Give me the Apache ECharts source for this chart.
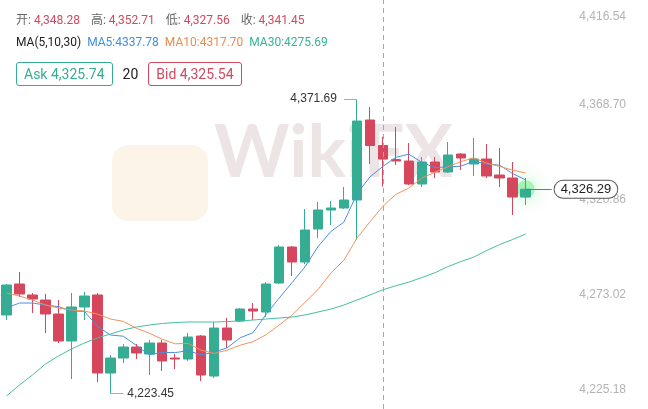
<!DOCTYPE html>
<html>
<head>
<meta charset="utf-8">
<script src="https://cdn.jsdelivr.net/npm/echarts@6/dist/echarts.min.js"></script>
<style>
    html, body {margin: 0; padding: 0; background: #fff;}
    #wrap {position: relative; width: 648px; height: 409px; overflow: hidden;
        font-family: Roboto, "Noto Sans CJK SC", sans-serif;}
    #chart {position: absolute; left: 0; top: 0; width: 648px; height: 409px;}
    .row {position: absolute; left: 16px; white-space: nowrap; font-size: 12px; line-height: 14px;}
    .row span {margin-right: 11px;}
    .lbl {color: #666; margin-right: 0 !important;}
    .up {color: #d2485e;}
    .box {display: inline-block; box-sizing: border-box; height: 24px; line-height: 22px;
        padding: 0 7px; border: 1px solid; border-radius: 3px; font-size: 14px; vertical-align: top;}
</style>
</head>
<body>
<div id="wrap">
    <div id="chart"></div>
    <div class="row" id="ohlc" style="top:13px;"></div>
    <div class="row" id="ma" style="top:35px;"></div>
    <div class="row" id="quote" style="top:62px;"></div>
</div>
<script>
    // 41 candles, then empty slots on the right where the price tag sits
    var categories = ['01', '02', '03', '04', '05', '06', '07', '08', '09', '10',
        '11', '12', '13', '14', '15', '16', '17', '18', '19', '20',
        '21', '22', '23', '24', '25', '26', '27', '28', '29', '30',
        '31', '32', '33', '34', '35', '36', '37', '38', '39', '40', '41',
        '42', '43', '44', '45', '46', '47', '48', '49'];

    var opens = [4262.95, 4278.56, 4273.02, 4270.50, 4263.45, 4249.86, 4266.98, 4273.02, 4233.74, 4241.29,
        4246.83, 4243.31, 4248.85, 4241.29, 4240.79, 4252.37, 4232.23, 4256.40, 4259.93, 4265.97,
        4264.46, 4279.06, 4297.19, 4289.64, 4306.26, 4315.82, 4316.83, 4320.86, 4361.15, 4348.28,
        4341.20, 4340.50, 4328.92, 4340.00, 4334.96, 4344.02, 4338.99, 4341.51, 4333.45, 4331.94, 4322.37];
    var closes = [4278.06, 4273.52, 4271.01, 4263.45, 4249.86, 4266.98, 4272.52, 4233.74, 4241.29, 4246.83,
        4243.81, 4248.85, 4239.78, 4240.79, 4251.87, 4232.73, 4256.40, 4250.36, 4265.97, 4264.96,
        4278.56, 4297.19, 4289.64, 4305.75, 4315.82, 4316.83, 4320.86, 4360.64, 4348.28, 4341.45,
        4340.50, 4328.92, 4340.00, 4334.96, 4343.52, 4342.01, 4341.51, 4332.95, 4331.94, 4322.37, 4326.29];
    var highs = [4278.60, 4284.60, 4274.03, 4273.52, 4270.50, 4274.03, 4274.53, 4274.03, 4242.81, 4248.34,
        4248.34, 4250.36, 4250.36, 4243.31, 4253.88, 4252.88, 4259.42, 4261.44, 4266.47, 4268.99,
        4279.57, 4298.20, 4297.70, 4316.33, 4319.85, 4320.36, 4327.41, 4371.69, 4367.69, 4352.71,
        4357.62, 4349.56, 4342.51, 4342.51, 4350.07, 4344.53, 4352.08, 4349.06, 4347.05, 4340.00, 4331.94];
    var lows = [4260.43, 4272.01, 4263.96, 4253.88, 4248.85, 4230.72, 4260.43, 4229.21, 4223.45, 4238.78,
        4240.79, 4232.73, 4234.75, 4235.76, 4239.78, 4229.71, 4231.22, 4246.33, 4259.42, 4260.43,
        4261.94, 4278.56, 4282.59, 4288.63, 4301.72, 4308.27, 4316.33, 4300.72, 4338.99, 4327.56,
        4338.49, 4328.41, 4327.41, 4331.94, 4334.46, 4335.97, 4332.95, 4331.94, 4327.41, 4313.31, 4318.34];

    var ma5 = [4266.47, 4268.99, 4268.99, 4267.98, 4267.18, 4264.96, 4264.76, 4257.31, 4252.88, 4252.27,
        4247.64, 4242.90, 4244.11, 4244.01, 4245.02, 4242.80, 4244.31, 4246.43, 4251.47, 4254.08,
        4263.25, 4271.41, 4279.26, 4287.22, 4297.39, 4305.05, 4309.78, 4323.98, 4332.49, 4337.78,
        4342.35, 4343.96, 4339.83, 4337.17, 4337.58, 4337.88, 4340.40, 4338.99, 4338.39, 4334.16, 4331.01];
    var ma10 = [4274.03, 4272.52, 4270.50, 4267.98, 4266.47, 4265.47, 4264.96, 4263.45, 4260.93, 4259.73,
        4256.30, 4253.83, 4250.71, 4248.45, 4248.65, 4245.22, 4243.61, 4245.27, 4247.74, 4249.55,
        4253.03, 4257.86, 4262.85, 4269.34, 4275.74, 4284.15, 4290.59, 4301.62, 4309.85, 4317.70,
        4323.70, 4326.87, 4331.91, 4334.83, 4337.60, 4340.11, 4342.18, 4339.41, 4337.78, 4335.87, 4334.45];
    var ma30 = [4222.16, 4227.70, 4232.73, 4238.27, 4242.30, 4245.83, 4248.85, 4251.37, 4253.38, 4255.39,
        4256.91, 4257.91, 4258.67, 4259.17, 4259.42, 4259.42, 4259.42, 4259.68, 4259.93, 4260.43,
        4260.93, 4261.44, 4261.94, 4262.95, 4264.46, 4265.97, 4267.98, 4270.50, 4273.02, 4275.69,
        4277.67, 4279.52, 4281.82, 4284.20, 4287.33, 4289.83, 4292.13, 4295.43, 4298.46, 4300.97, 4303.72];

    var yTicks = [4225.18, 4273.02, 4320.86, 4368.70, 4416.54];
    var yMin = 4215.62, yMax = 4421.58;   // visible price range of the window
    var ask = 4325.74, bid = 4325.54, spread = 20;
    var focusIndex = 29;   // candle under the crosshair

    var UP = '#35ad92', DOWN = '#d6475e';

    function fmt(v) {
        return Number(v).toLocaleString('en-US', {minimumFractionDigits: 2, maximumFractionDigits: 2});
    }

    // header
    document.getElementById('ohlc').innerHTML =
        '<span class="lbl">开: </span><span class="up">' + fmt(opens[focusIndex]) + '</span>' +
        '<span class="lbl">高: </span><span class="up">' + fmt(highs[focusIndex]) + '</span>' +
        '<span class="lbl">低: </span><span class="up">' + fmt(lows[focusIndex]) + '</span>' +
        '<span class="lbl">收: </span><span class="up">' + fmt(closes[focusIndex]) + '</span>';
    document.getElementById('ma').innerHTML =
        '<span style="color:#222;margin-right:6px">MA(5,10,30)</span>' +
        '<span style="color:#3f8fe0;margin-right:6px">MA5:' + ma5[focusIndex].toFixed(2) + '</span>' +
        '<span style="color:#ee8a4c;margin-right:6px">MA10:' + ma10[focusIndex].toFixed(2) + '</span>' +
        '<span style="color:#36b396">MA30:' + ma30[focusIndex].toFixed(2) + '</span>';
    document.getElementById('quote').innerHTML =
        '<span class="box" style="color:#35ad92;border-color:#35ad92;margin-right:0">Ask ' + fmt(ask) + '</span>' +
        '<span style="display:inline-block;font-size:14px;line-height:24px;color:#222;margin:0 10px">' + spread + '</span>' +
        '<span class="box" style="color:#d2485e;border-color:#d2485e">Bid ' + fmt(bid) + '</span>';

    var candleData = [];
    for (var i = 0; i < opens.length; i++) {
        candleData.push([opens[i], closes[i], lows[i], highs[i]]);
    }
    var last = closes.length - 1;
    var hiVal = Math.max.apply(null, highs), hiIdx = highs.indexOf(hiVal);
    var loVal = Math.min.apply(null, lows), loIdx = lows.indexOf(loVal);
    var topTick = yTicks[yTicks.length - 1];

    var myChart = echarts.init(document.getElementById('chart'));

    var option = {
        animation: false,
        graphic: [
            {
                type: 'rect', left: 112, top: 145, z: -10,
                shape: {width: 96, height: 76, r: 16},
                style: {fill: 'rgba(244,214,170,0.26)'}
            },
            {
                type: 'text', left: 214, top: 118, z: -10,
                style: {text: 'WikiFX', fontSize: 72, fontWeight: 'bold', fontFamily: 'Lato, sans-serif',
                    fill: 'rgba(190,160,160,0.28)'}
            }
        ],
        grid: {left: 0, right: 12, top: 0, bottom: 0},
        xAxis: {
            type: 'category',
            data: categories,
            boundaryGap: true,
            axisLine: {show: false},
            axisTick: {show: false},
            axisLabel: {show: false},
            splitLine: {show: false}
        },
        yAxis: {
            type: 'value',
            position: 'right',
            min: yMin,
            max: yMax,
            axisLine: {show: false},
            axisTick: {show: false},
            splitLine: {show: false},
            axisLabel: {
                inside: true,
                margin: 10,
                color: '#b3b3b3',
                fontSize: 12,
                customValues: yTicks,
                formatter: function (v) {
                    if (Math.abs(v - topTick) < 0.01) return '{t|' + fmt(v) + '}';
                    return fmt(v);
                },
                rich: {t: {padding: [14, 0, 0, 0], color: '#b3b3b3', fontSize: 12}}
            }
        },
        series: [
            {
                type: 'scatter',
                data: [[last, closes[last]]],
                symbolSize: 18,
                z: 1,
                itemStyle: {color: 'rgba(90,235,120,0.55)', shadowBlur: 18, shadowColor: 'rgba(60,230,90,1)'}
            },
            {
                type: 'candlestick',
                data: candleData,
                barWidth: 10,
                z: 2,
                itemStyle: {color: UP, color0: DOWN, borderColor: UP, borderColor0: DOWN, borderWidth: 1},
                markLine: {
                    silent: true,
                    symbol: 'none',
                    data: [
                        {
                            xAxis: focusIndex,
                            lineStyle: {type: [5, 4], color: '#a8a8a8', width: 1},
                            label: {show: false}
                        },
                        [
                            {coord: [hiIdx, hiVal]},
                            {coord: [hiIdx - 1, hiVal], lineStyle: {type: 'solid', color: '#aaa', width: 1},
                                label: {show: true, position: 'end', distance: 7, color: '#333', fontSize: 12,
                                    formatter: fmt(hiVal)}}
                        ],
                        [
                            {coord: [loIdx, loVal]},
                            {coord: [loIdx + 1, loVal], lineStyle: {type: 'solid', color: '#aaa', width: 1},
                                label: {show: true, position: 'end', distance: 4, color: '#333', fontSize: 12,
                                    formatter: fmt(loVal)}}
                        ],
                        [
                            {coord: [last, closes[last]]},
                            {coord: [last + 2, closes[last]], lineStyle: {type: 'solid', color: '#777', width: 1},
                                label: {show: true, position: 'end', distance: 3, color: '#222', fontSize: 13,
                                    backgroundColor: '#fff', borderColor: '#555', borderWidth: 1,
                                    borderRadius: 9, padding: [2, 6], formatter: fmt(closes[last])}}
                        ]
                    ]
                }
            },
            {
                type: 'line', data: ma5, showSymbol: false, z: 3,
                lineStyle: {width: 1, color: '#4a90e2'}
            },
            {
                type: 'line', data: ma10, showSymbol: false, z: 3,
                lineStyle: {width: 1, color: '#f0935a'}
            },
            {
                type: 'line', data: ma30, showSymbol: false, z: 3,
                lineStyle: {width: 1, color: '#45bfa0'}
            }
        ]
    };

    myChart.setOption(option);

    window.addEventListener("resize", function () {
        myChart.resize();
    });
</script>
</body>
</html>
